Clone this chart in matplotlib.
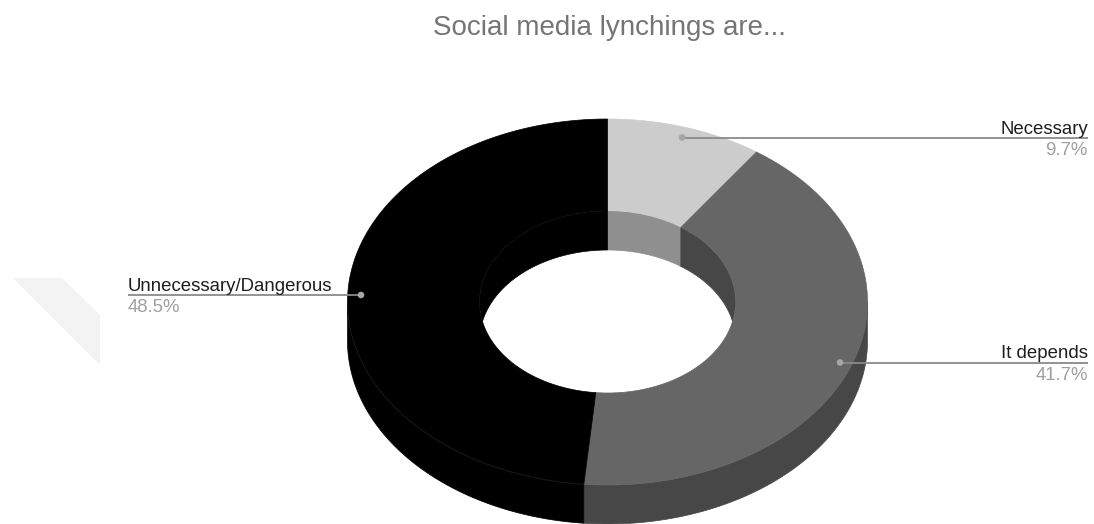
import numpy as np
import matplotlib
matplotlib.use("Agg")
import matplotlib.pyplot as plt
from matplotlib.patches import Polygon, Ellipse, Circle

plt.rcParams['font.family'] = ['Liberation Sans', 'DejaVu Sans']

# data
labels = ['Necessary', 'It depends', 'Unnecessary/Dangerous']
values = [9.7, 41.7, 48.5]
top_colors = ['#cccccc', '#666666', '#000000']
side_colors = ['#8f8f8f', '#474747', '#000000']
title = 'Social media lynchings are...'

# geometry of the "3d" donut, in pixels
CX, CY = 607.5, 302
RX, RY = 260, 183
RXI, RYI = 128, 91
D = 39

fig = plt.figure(figsize=(10.94, 5.24), dpi=100)
ax = fig.add_axes([0, 0, 1, 1])
ax.set_xlim(0, 1094)
ax.set_ylim(524, 0)
ax.axis('off')


def arc(a0, a1, rx, ry, dy=0, n=200):
    th = np.radians(np.linspace(a0, a1, n))
    return np.column_stack([CX + rx * np.sin(th), CY - ry * np.cos(th) + dy])


# faint watermark shape on the left
ax.add_patch(Polygon([(13, 278), (62, 278), (100, 315), (100, 365)],
                     closed=True, fc='#f3f3f3', ec='none', zorder=0))

total = sum(values)
edges = np.concatenate([[0], np.cumsum(values) / total * 360])

# outer side walls (front half only)
for i in range(len(values)):
    lo, hi = max(edges[i], 90), min(edges[i + 1], 270)
    if lo < hi:
        pts = np.vstack([arc(lo, hi, RX, RY), arc(hi, lo, RX, RY, D)])
        ax.add_patch(Polygon(pts, closed=True, fc=side_colors[i], ec=side_colors[i], lw=0.5, zorder=1))

# top faces
for i in range(len(values)):
    s, e = edges[i], edges[i + 1]
    pts = np.vstack([arc(s, e, RX, RY), arc(e, s, RXI, RYI)])
    ax.add_patch(Polygon(pts, closed=True, fc=top_colors[i], ec=top_colors[i], lw=0.5, zorder=2))

# faint rim line on the black part
rim = arc(edges[2], 270, RX, RY)
ax.plot(rim[:, 0], rim[:, 1], color='#1c1c1c', lw=0.6, zorder=2.5)

# inner walls (back half of the hole), clipped to the hole
hole = Ellipse((CX, CY), 2 * RXI, 2 * RYI, transform=ax.transData)
for i in range(len(values)):
    for wlo, whi in [(0, 90), (270, 360)]:
        lo, hi = max(edges[i], wlo), min(edges[i + 1], whi)
        if lo < hi:
            pts = np.vstack([arc(lo, hi, RXI, RYI), arc(hi, lo, RXI, RYI, D)])
            p = Polygon(pts, closed=True, fc=side_colors[i], ec=side_colors[i], lw=0.5, zorder=3)
            ax.add_patch(p)
            p.set_clip_path(hole)

# title
ax.text(609, 35, title, ha='center', va='baseline', fontsize=20, color='#757575')

# labels with leader lines
label_pos = [
    # dot x, dot y, text x, align
    (682, 137.5, 1088, 'right'),
    (840, 362.5, 1088, 'right'),
    (361, 295, 128, 'left'),
]
for (lab, val, (dx, dy, tx, ha)) in zip(labels, values, label_pos):
    ax.plot([dx, tx], [dy, dy], color='#8a8a8a', lw=1.3, zorder=4, solid_capstyle='butt')
    ax.add_patch(Circle((dx, dy), 3.3, fc='#a6a6a6', ec='none', zorder=5))
    ax.text(tx, dy - 4, lab, ha=ha, va='baseline', fontsize=13.4, color='#1e1e1e', zorder=6)
    ax.text(tx, dy + 17.5, '%.1f%%' % val, ha=ha, va='baseline', fontsize=13.4, color='#a0a0a0', zorder=6)

fig.savefig('out.png', dpi=100, facecolor='white')
